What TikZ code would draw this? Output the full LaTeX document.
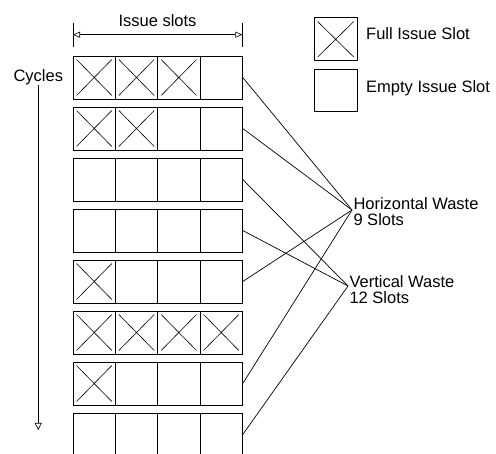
\documentclass[tikz,border=0pt]{standalone}
\usepackage{fontspec}
\setmainfont{Liberation Sans}
\usetikzlibrary{arrows.meta,positioning}

\begin{document}
\begin{tikzpicture}[x=1pt,y=-1pt,
    slot/.style={rectangle,draw,line width=0.9pt,minimum width=42.3pt,minimum height=43pt,inner sep=0pt},
    cross/.style={line width=0.6pt},
    waste/.style={line width=0.7pt},
    txt/.style={font=\fontsize{16.5}{16.4}\selectfont,inner sep=0pt,align=left},
    tip/.style={line width=0.6pt,{Triangle[open,length=7pt,width=6pt]}}]
    \clip (0,0) rectangle (496,454);
    % width of one issue cycle
    \coordinate (isl) at (73,34.7);
    \coordinate (isr) at (242.3,34.7);
    \draw[line width=0.6pt] (73,22.7) -- (73,46.7) (242.3,22.7) -- (242.3,46.7);
    \draw[line width=0.6pt,{Triangle[open,length=7pt,width=6pt]}-{Triangle[open,length=7pt,width=6pt]}] (isl) -- (isr);
    \node[txt,anchor=base] (islots) at (157.5,26.7) {Issue slots};
    % time axis
    \node[txt,anchor=base west] (cyc) at (13.3,81.7) {Cycles};
    \coordinate (cycend) at (39,430);
    \draw[-{Triangle[open,length=7pt,width=7pt]},line width=0.6pt] (cyc.south) -- (cyc.south |- cycend);
    % one row of slots per cycle, \full of them used
    \foreach \full [count=\r] in {3,2,0,0,1,4,1,0} {
        \foreach \k in {1,...,4} {
            \node[slot] (c\r\k) at (51.85+42.33*\k,26.5+51*\r) {};
            \ifnum\k>\full\else
                \draw[cross] ([shift={(4,4)}]c\r\k.north west) -- ([shift={(-4,-4)}]c\r\k.south east)
                    ([shift={(-4,4)}]c\r\k.north east) -- ([shift={(4,-4)}]c\r\k.south west);
            \fi
        }
    }
    % legend
    \node[slot,minimum width=43.3pt,minimum height=42.7pt] (full) at (335.7,39.3) {};
    \draw[cross] ([shift={(4,4)}]full.north west) -- ([shift={(-4,-4)}]full.south east)
        ([shift={(-4,4)}]full.north east) -- ([shift={(4,-4)}]full.south west);
    \node[slot,minimum width=43.3pt,minimum height=42pt] (empty) at (335.7,90) {};
    \node[txt,anchor=base west] (fulltxt) at (366,39.3) {Full Issue Slot};
    \node[txt,anchor=base west] (emptytxt) at (366,92.7) {Empty Issue Slot};
    % waste
    \coordinate (hwpt) at (352,210);
    \coordinate (vwpt) at (348,286);
    \node[txt,anchor=north west] (hw) at (353.3,197.4) {Horizontal Waste\\9 Slots};
    \node[txt,anchor=north west] (vw) at (349.3,275.4) {Vertical Waste\\12 Slots};
    \foreach \r in {1,2,5,7} \draw[waste] (c\r4.east) -- (hwpt);
    \foreach \r in {3,4,8} \draw[waste] (c\r4.east) -- (vwpt);
\end{tikzpicture}
\end{document}
